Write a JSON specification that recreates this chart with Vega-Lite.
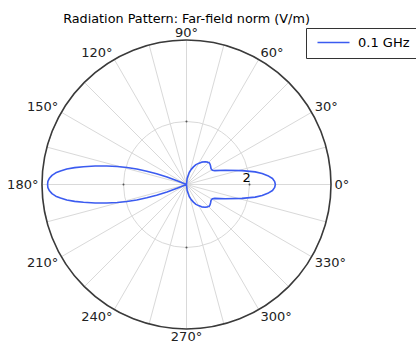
{
  "$schema": "https://vega.github.io/schema/vega-lite/v6.json",
  "width": 289,
  "height": 289,
  "autosize": "none",
  "padding": {"left": 42, "top": 40, "right": 85, "bottom": 12},
  "background": "white",
  "config": {"view": {"stroke": null}, "font": "DejaVu Sans"},
  "title": {"text": "Radiation Pattern: Far-field norm (V/m)", "fontSize": 12.8, "fontWeight": "normal", "font": "DejaVu Sans", "color": "#000000", "anchor": "middle", "offset": 2},
  "datasets": {
    "spokes": [
      {"a0": 0, "a1": 15}, {"a0": 30, "a1": 45}, {"a0": 60, "a1": 75}, {"a0": 90, "a1": 105},
      {"a0": 120, "a1": 135}, {"a0": 150, "a1": 165}, {"a0": 180, "a1": 195}, {"a0": 210, "a1": 225},
      {"a0": 240, "a1": 255}, {"a0": 270, "a1": 285}, {"a0": 300, "a1": 315}, {"a0": 330, "a1": 345}
    ],
    "labels": [
      {"a": 0, "t": "0°"}, {"a": 30, "t": "30°"}, {"a": 60, "t": "60°"}, {"a": 90, "t": "90°"},
      {"a": 120, "t": "120°"}, {"a": 150, "t": "150°"}, {"a": 180, "t": "180°"}, {"a": 210, "t": "210°"},
      {"a": 240, "t": "240°"}, {"a": 270, "t": "270°"}, {"a": 300, "t": "300°"}, {"a": 330, "t": "330°"}
    ],
    "ticks": [{"x": 2, "y": 0}, {"x": -2, "y": 0}, {"x": 0, "y": 2}, {"x": 0, "y": -2}],
    "curve": [
      {"i": 0, "x": 0, "y": 0, "s": "0.1 GHz"},
      {"i": 1, "x": 0.02, "y": 0.19, "s": "0.1 GHz"},
      {"i": 2, "x": 0.086, "y": 0.38, "s": "0.1 GHz"},
      {"i": 3, "x": 0.15, "y": 0.48, "s": "0.1 GHz"},
      {"i": 4, "x": 0.22, "y": 0.56, "s": "0.1 GHz"},
      {"i": 5, "x": 0.30, "y": 0.63, "s": "0.1 GHz"},
      {"i": 6, "x": 0.38, "y": 0.67, "s": "0.1 GHz"},
      {"i": 7, "x": 0.48, "y": 0.71, "s": "0.1 GHz"},
      {"i": 8, "x": 0.59, "y": 0.72, "s": "0.1 GHz"},
      {"i": 9, "x": 0.67, "y": 0.71, "s": "0.1 GHz"},
      {"i": 10, "x": 0.72, "y": 0.69, "s": "0.1 GHz"},
      {"i": 11, "x": 0.75, "y": 0.64, "s": "0.1 GHz"},
      {"i": 12, "x": 0.765, "y": 0.58, "s": "0.1 GHz"},
      {"i": 13, "x": 0.78, "y": 0.50, "s": "0.1 GHz"},
      {"i": 14, "x": 0.82, "y": 0.455, "s": "0.1 GHz"},
      {"i": 15, "x": 0.9, "y": 0.44, "s": "0.1 GHz"},
      {"i": 16, "x": 1.23, "y": 0.45, "s": "0.1 GHz"},
      {"i": 17, "x": 1.76, "y": 0.44, "s": "0.1 GHz"},
      {"i": 18, "x": 2.18, "y": 0.40, "s": "0.1 GHz"},
      {"i": 19, "x": 2.40, "y": 0.35, "s": "0.1 GHz"},
      {"i": 20, "x": 2.58, "y": 0.28, "s": "0.1 GHz"},
      {"i": 21, "x": 2.73, "y": 0.19, "s": "0.1 GHz"},
      {"i": 22, "x": 2.80, "y": 0.09, "s": "0.1 GHz"},
      {"i": 23, "x": 2.82, "y": 0, "s": "0.1 GHz"},
      {"i": 24, "x": 2.80, "y": -0.09, "s": "0.1 GHz"},
      {"i": 25, "x": 2.73, "y": -0.19, "s": "0.1 GHz"},
      {"i": 26, "x": 2.58, "y": -0.28, "s": "0.1 GHz"},
      {"i": 27, "x": 2.40, "y": -0.35, "s": "0.1 GHz"},
      {"i": 28, "x": 2.18, "y": -0.40, "s": "0.1 GHz"},
      {"i": 29, "x": 1.76, "y": -0.44, "s": "0.1 GHz"},
      {"i": 30, "x": 1.23, "y": -0.45, "s": "0.1 GHz"},
      {"i": 31, "x": 0.9, "y": -0.44, "s": "0.1 GHz"},
      {"i": 32, "x": 0.82, "y": -0.455, "s": "0.1 GHz"},
      {"i": 33, "x": 0.78, "y": -0.50, "s": "0.1 GHz"},
      {"i": 34, "x": 0.765, "y": -0.58, "s": "0.1 GHz"},
      {"i": 35, "x": 0.75, "y": -0.64, "s": "0.1 GHz"},
      {"i": 36, "x": 0.72, "y": -0.69, "s": "0.1 GHz"},
      {"i": 37, "x": 0.67, "y": -0.71, "s": "0.1 GHz"},
      {"i": 38, "x": 0.59, "y": -0.72, "s": "0.1 GHz"},
      {"i": 39, "x": 0.48, "y": -0.71, "s": "0.1 GHz"},
      {"i": 40, "x": 0.38, "y": -0.67, "s": "0.1 GHz"},
      {"i": 41, "x": 0.30, "y": -0.63, "s": "0.1 GHz"},
      {"i": 42, "x": 0.22, "y": -0.56, "s": "0.1 GHz"},
      {"i": 43, "x": 0.15, "y": -0.48, "s": "0.1 GHz"},
      {"i": 44, "x": 0.086, "y": -0.38, "s": "0.1 GHz"},
      {"i": 45, "x": 0.02, "y": -0.19, "s": "0.1 GHz"},
      {"i": 46, "x": 0, "y": 0, "s": "0.1 GHz"},
      {"i": 47, "x": -0.3, "y": 0.12, "s": "0.1 GHz"},
      {"i": 48, "x": -0.62, "y": 0.24, "s": "0.1 GHz"},
      {"i": 49, "x": -0.95, "y": 0.34, "s": "0.1 GHz"},
      {"i": 50, "x": -1.26, "y": 0.42, "s": "0.1 GHz"},
      {"i": 51, "x": -1.58, "y": 0.49, "s": "0.1 GHz"},
      {"i": 52, "x": -1.89, "y": 0.54, "s": "0.1 GHz"},
      {"i": 53, "x": -2.2, "y": 0.57, "s": "0.1 GHz"},
      {"i": 54, "x": -2.53, "y": 0.585, "s": "0.1 GHz"},
      {"i": 55, "x": -2.9, "y": 0.585, "s": "0.1 GHz"},
      {"i": 56, "x": -3.27, "y": 0.565, "s": "0.1 GHz"},
      {"i": 57, "x": -3.55, "y": 0.535, "s": "0.1 GHz"},
      {"i": 58, "x": -3.80, "y": 0.49, "s": "0.1 GHz"},
      {"i": 59, "x": -4.0, "y": 0.43, "s": "0.1 GHz"},
      {"i": 60, "x": -4.15, "y": 0.37, "s": "0.1 GHz"},
      {"i": 61, "x": -4.27, "y": 0.29, "s": "0.1 GHz"},
      {"i": 62, "x": -4.35, "y": 0.2, "s": "0.1 GHz"},
      {"i": 63, "x": -4.40, "y": 0.1, "s": "0.1 GHz"},
      {"i": 64, "x": -4.41, "y": 0, "s": "0.1 GHz"},
      {"i": 65, "x": -4.40, "y": -0.1, "s": "0.1 GHz"},
      {"i": 66, "x": -4.35, "y": -0.2, "s": "0.1 GHz"},
      {"i": 67, "x": -4.27, "y": -0.29, "s": "0.1 GHz"},
      {"i": 68, "x": -4.15, "y": -0.37, "s": "0.1 GHz"},
      {"i": 69, "x": -4.0, "y": -0.43, "s": "0.1 GHz"},
      {"i": 70, "x": -3.80, "y": -0.49, "s": "0.1 GHz"},
      {"i": 71, "x": -3.55, "y": -0.535, "s": "0.1 GHz"},
      {"i": 72, "x": -3.27, "y": -0.565, "s": "0.1 GHz"},
      {"i": 73, "x": -2.9, "y": -0.585, "s": "0.1 GHz"},
      {"i": 74, "x": -2.53, "y": -0.585, "s": "0.1 GHz"},
      {"i": 75, "x": -2.2, "y": -0.57, "s": "0.1 GHz"},
      {"i": 76, "x": -1.89, "y": -0.54, "s": "0.1 GHz"},
      {"i": 77, "x": -1.58, "y": -0.49, "s": "0.1 GHz"},
      {"i": 78, "x": -1.26, "y": -0.42, "s": "0.1 GHz"},
      {"i": 79, "x": -0.95, "y": -0.34, "s": "0.1 GHz"},
      {"i": 80, "x": -0.62, "y": -0.24, "s": "0.1 GHz"},
      {"i": 81, "x": -0.3, "y": -0.12, "s": "0.1 GHz"},
      {"i": 82, "x": 0, "y": 0, "s": "0.1 GHz"}
    ]
  },
  "layer": [
    {
      "data": {"name": "spokes"},
      "mark": {"type": "arc", "filled": false, "stroke": "#d9d9d9", "strokeWidth": 1},
      "encoding": {
        "theta": {"field": "a0", "type": "quantitative", "stack": null, "scale": {"type": "linear", "domain": [0, 360], "range": [1.5707963267948966, -4.71238898038469]}},
        "theta2": {"field": "a1"},
        "radius": {"datum": 4.587, "type": "quantitative", "scale": {"type": "linear", "domain": [0, 4.587], "range": [0, 144.5], "zero": true, "nice": false}}
      }
    },
    {
      "data": {"values": [{"r": 2}]},
      "mark": {"type": "arc", "filled": false, "stroke": "#d9d9d9", "strokeWidth": 1},
      "encoding": {
        "theta": {"datum": 0, "type": "quantitative", "stack": null, "scale": {"type": "linear", "domain": [0, 360], "range": [1.5707963267948966, -4.71238898038469]}},
        "theta2": {"datum": 361},
        "radius": {"field": "r", "type": "quantitative", "scale": {"type": "linear", "domain": [0, 4.587], "range": [0, 144.5], "zero": true, "nice": false}}
      }
    },
    {
      "data": {"values": [{"r": 4.587}]},
      "mark": {"type": "arc", "filled": false, "stroke": "#3a3a3a", "strokeWidth": 1.6},
      "encoding": {
        "theta": {"datum": 0, "type": "quantitative", "stack": null, "scale": {"type": "linear", "domain": [0, 360], "range": [1.5707963267948966, -4.71238898038469]}},
        "theta2": {"datum": 361},
        "radius": {"field": "r", "type": "quantitative", "scale": {"type": "linear", "domain": [0, 4.587], "range": [0, 144.5], "zero": true, "nice": false}}
      }
    },
    {
      "data": {"name": "ticks"},
      "mark": {"type": "point", "filled": true, "size": 4, "color": "#555555", "opacity": 1},
      "encoding": {
        "x": {"field": "x", "type": "quantitative", "scale": {"domain": [-4.587, 4.587], "nice": false, "zero": false}, "axis": null},
        "y": {"field": "y", "type": "quantitative", "scale": {"domain": [-4.587, 4.587], "nice": false, "zero": false}, "axis": null}
      }
    },
    {
      "data": {"name": "curve"},
      "mark": {"type": "line", "strokeWidth": 1.6, "strokeJoin": "round"},
      "encoding": {
        "x": {"field": "x", "type": "quantitative", "scale": {"domain": [-4.587, 4.587], "nice": false, "zero": false}, "axis": null},
        "y": {"field": "y", "type": "quantitative", "scale": {"domain": [-4.587, 4.587], "nice": false, "zero": false}, "axis": null},
        "order": {"field": "i", "type": "quantitative"},
        "color": {
          "field": "s", "type": "nominal",
          "scale": {"range": ["#3b5bf0"]},
          "legend": {
            "title": null, "orient": "none", "legendX": 264, "legendY": -12,
            "symbolType": "M-0.6,0H5.8", "symbolSize": 100, "symbolStrokeWidth": 1.6,
            "labelFontSize": 13, "labelFont": "DejaVu Sans", "labelColor": "#000000",
            "labelOffset": 31, "padding": 8, "strokeColor": "#333333", "fillColor": "white", "cornerRadius": 0
          }
        }
      }
    },
    {
      "data": {"name": "labels"},
      "mark": {
        "type": "text", "fontSize": 13, "font": "DejaVu Sans", "color": "#222222",
        "align": {"expr": "datum.a == 90 || datum.a == 270 ? 'center' : ((datum.a < 90 || datum.a > 270) ? 'left' : 'right')"},
        "baseline": {"expr": "datum.a == 0 || datum.a == 180 ? 'middle' : (datum.a < 180 ? 'bottom' : 'top')"},
        "dy": {"expr": "datum.a > 0 && datum.a < 180 ? 4 : (datum.a > 180 ? -1.5 : 0)"}
      },
      "encoding": {
        "theta": {"field": "a", "type": "quantitative", "stack": null, "scale": {"type": "linear", "domain": [0, 360], "range": [1.5707963267948966, -4.71238898038469]}},
        "radius": {"datum": 4.70, "type": "quantitative", "scale": {"type": "linear", "domain": [0, 4.587], "range": [0, 144.5], "zero": true, "nice": false}},
        "text": {"field": "t", "type": "nominal"}
      }
    },
    {
      "data": {"values": [{"t": "2"}]},
      "mark": {"type": "text", "fontSize": 13, "font": "DejaVu Sans", "color": "#000000", "align": "center", "baseline": "middle"},
      "encoding": {
        "theta": {"datum": 6.3, "type": "quantitative", "stack": null, "scale": {"type": "linear", "domain": [0, 360], "range": [1.5707963267948966, -4.71238898038469]}},
        "radius": {"datum": 1.92, "type": "quantitative", "scale": {"type": "linear", "domain": [0, 4.587], "range": [0, 144.5], "zero": true, "nice": false}},
        "text": {"field": "t", "type": "nominal"}
      }
    }
  ]
}
